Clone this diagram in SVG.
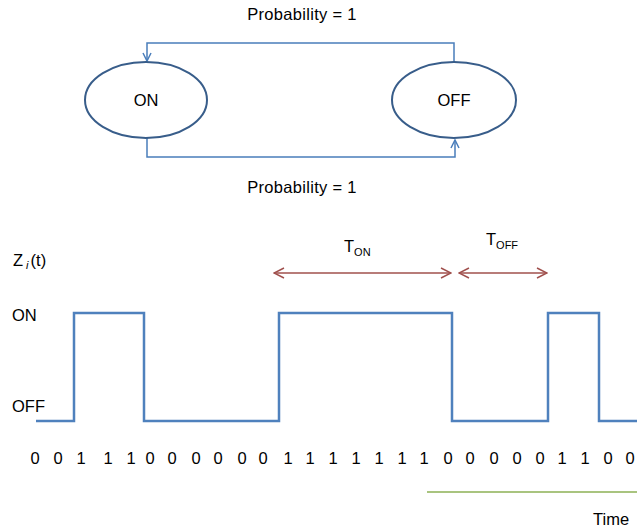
<svg xmlns="http://www.w3.org/2000/svg" width="637" height="531" viewBox="0 0 637 531">
<style>
text{font-family:"Liberation Sans","Open Sans",sans-serif;fill:#000;}
.lbl{font-size:16.5px;}
.dg{font-size:16.5px;text-anchor:middle;}
.state{fill:#fff;stroke:#385D8A;stroke-width:2;}
.conn{fill:none;stroke:#4A7EBB;stroke-width:1.5;}
.wave{fill:none;stroke:#4F81BD;stroke-width:2.5;stroke-linejoin:miter;}
.dur{fill:none;stroke:#A0504D;stroke-width:1.5;}
</style>
<defs>
<marker id="ab" viewBox="0 0 10 10" refX="9" refY="5" markerWidth="10" markerHeight="10" markerUnits="userSpaceOnUse" orient="auto">
<path d="M1,1 L9,5 L1,9" fill="none" stroke="#4A7EBB" stroke-width="1.5"/>
</marker>
<marker id="ar" viewBox="0 0 12 12" refX="11" refY="6" markerWidth="12" markerHeight="12" markerUnits="userSpaceOnUse" orient="auto-start-reverse">
<path d="M1,1 L11,6 L1,11" fill="none" stroke="#A0504D" stroke-width="1.5"/>
</marker>
</defs>
<g id="connectors">
<path class="conn" d="M454,62 V43 H147 V61" marker-end="url(#ab)"/>
<path class="conn" d="M147,138 V157 H455 V140" marker-end="url(#ab)"/>
<path class="dur" d="M274,273 H451" marker-start="url(#ar)" marker-end="url(#ar)"/>
<path class="dur" d="M459,273 H547" marker-start="url(#ar)" marker-end="url(#ar)"/>
<path d="M427,492 H637" stroke="#A9C47F" stroke-width="2" fill="none"/>
</g>
<g id="node-on">
<ellipse class="state" cx="146" cy="100" rx="61" ry="38"/>
<text class="lbl" x="146" y="106" text-anchor="middle">ON</text>
</g>
<g id="node-off">
<ellipse class="state" cx="454" cy="100" rx="62" ry="38"/>
<text class="lbl" x="454" y="106" text-anchor="middle">OFF</text>
</g>
<text class="lbl" x="302" y="20" text-anchor="middle" letter-spacing="0.3">Probability = 1</text>
<text class="lbl" x="302" y="193" text-anchor="middle" letter-spacing="0.3">Probability = 1</text>
<g id="waveform">
<path class="wave" d="M36,421 H74 V313 H144 V421 H279 V313 H452 V421 H548 V313 H599 V421 H637"/>
</g>
<text class="lbl" x="13" y="266">Z<tspan font-size="11" font-style="italic" dx="3" dy="3">i</tspan><tspan dx="2" dy="-3">(t)</tspan></text>
<text class="lbl" x="12" y="321">ON</text>
<text class="lbl" x="12" y="412">OFF</text>
<text class="lbl" x="344" y="252">T<tspan font-size="11" dy="4">ON</tspan></text>
<text class="lbl" x="486" y="245">T<tspan font-size="11" dy="4">OFF</tspan></text>
<g id="digits">
<text class="dg" y="464" x="35">0</text>
<text class="dg" y="464" x="58">0</text>
<text class="dg" y="464" x="81">1</text>
<text class="dg" y="464" x="108">1</text>
<text class="dg" y="464" x="131">1</text>
<text class="dg" y="464" x="150">0</text>
<text class="dg" y="464" x="172">0</text>
<text class="dg" y="464" x="196">0</text>
<text class="dg" y="464" x="218">0</text>
<text class="dg" y="464" x="242">0</text>
<text class="dg" y="464" x="263">0</text>
<text class="dg" y="464" x="288">1</text>
<text class="dg" y="464" x="310">1</text>
<text class="dg" y="464" x="333">1</text>
<text class="dg" y="464" x="356">1</text>
<text class="dg" y="464" x="379">1</text>
<text class="dg" y="464" x="402">1</text>
<text class="dg" y="464" x="424">1</text>
<text class="dg" y="464" x="448">0</text>
<text class="dg" y="464" x="470">0</text>
<text class="dg" y="464" x="494">0</text>
<text class="dg" y="464" x="517">0</text>
<text class="dg" y="464" x="540">0</text>
<text class="dg" y="464" x="562">1</text>
<text class="dg" y="464" x="585">1</text>
<text class="dg" y="464" x="608">0</text>
<text class="dg" y="464" x="630">0</text>
</g>
<text class="lbl" x="593" y="525">Time</text>
</svg>
